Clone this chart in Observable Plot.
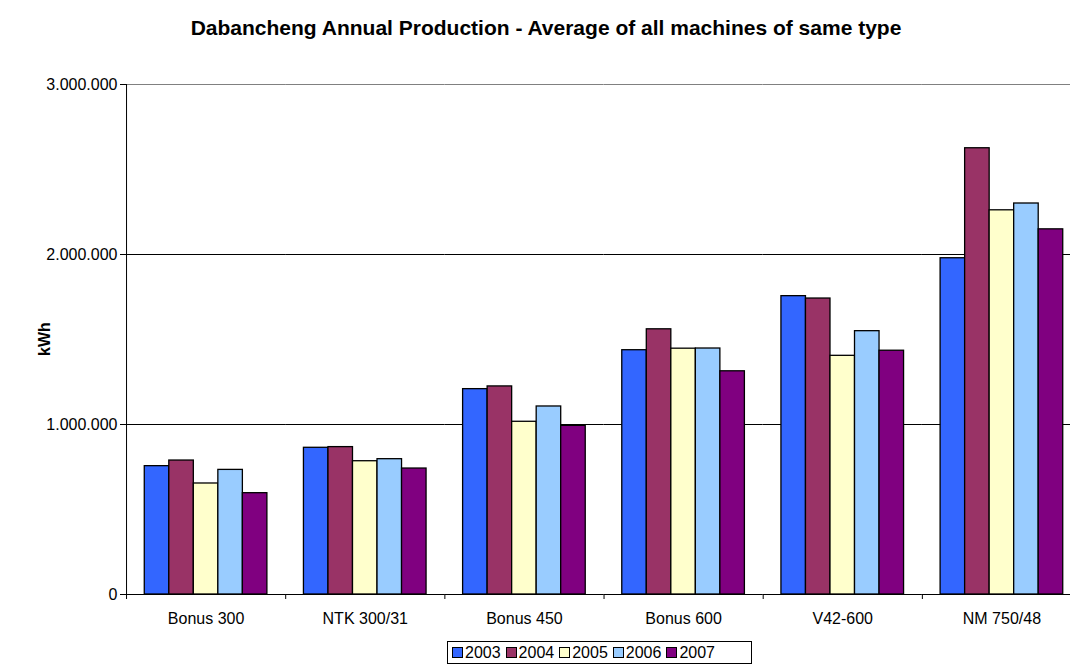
<!DOCTYPE html>
<html>
<head>
<meta charset="utf-8">
<script src="https://cdn.jsdelivr.net/npm/d3@7"></script>
<script src="https://cdn.jsdelivr.net/npm/@observablehq/plot@0.6"></script>
<style>
  html, body { margin: 0; padding: 0; overflow: hidden; background: #fff; }
  #wrap { position: relative; width: 1070px; height: 666px; overflow: hidden;
          font-family: "Liberation Sans", Arial, sans-serif; color: #000; }
  #chart { position: absolute; left: 0; top: 0; width: 1081px; }
  #chart svg { max-width: none !important; width: 1081px !important; height: 666px !important; }
  #title { position: absolute; left: 0; width: 1092px; top: 16px; text-align: center;
           font-weight: bold; font-size: 21px; white-space: nowrap; }
  #ylabel { position: absolute; left: 45px; top: 339px; transform: translate(-50%, -50%) rotate(-90deg);
            font-weight: bold; font-size: 16px; white-space: nowrap; }
  #legend { position: absolute; left: 447px; top: 641px; width: 305px; height: 23px;
            border: 1px solid #000; display: flex; align-items: center; padding-left: 4px;
            box-sizing: border-box; font-size: 16px; }
  .item { display: flex; align-items: center; margin-right: 5px; }
  .sw { width: 9px; height: 9px; border: 1px solid #000; margin-right: 2px; }
</style>
</head>
<body>
<div id="wrap">
  <div id="chart"></div>
  <div id="title"></div>
  <div id="ylabel"></div>
  <div id="legend"></div>
</div>
<script>
const titleText = "Dabancheng Annual Production - Average of all machines of same type";
const yLabel = "kWh";
const machines = ["Bonus 300", "NTK 300/31", "Bonus 450", "Bonus 600", "V42-600", "NM 750/48"];
const years = ["2003", "2004", "2005", "2006", "2007"];
const colors = ["#3366FF", "#993366", "#FFFFCC", "#99CCFF", "#800080"];
const v2003 = [755000, 863000, 1208000, 1437000, 1755000, 1978000];
const v2004 = [788000, 867000, 1224000, 1560000, 1741000, 2625000];
const v2005 = [653000, 784000, 1016000, 1446000, 1404000, 2260000];
const v2006 = [733000, 796000, 1106000, 1447000, 1549000, 2300000];
const v2007 = [596000, 741000, 992000, 1313000, 1434000, 2148000];
const yTicks = [0, 1000000, 2000000, 3000000];

const series = [v2003, v2004, v2005, v2006, v2007];
const data = machines.flatMap((m, i) => years.map((yr, j) => ({machine: m, year: yr, value: series[j][i]})));

const locale = d3.formatLocale({decimal: ",", thousands: ".", grouping: [3], currency: ["", ""]});
const fmt = locale.format(",");

document.getElementById("title").textContent = titleText;
document.getElementById("ylabel").textContent = yLabel;

const legend = document.getElementById("legend");
years.forEach((yr, j) => {
  const it = document.createElement("div");
  it.className = "item";
  const sw = document.createElement("div");
  sw.className = "sw";
  sw.style.background = colors[j];
  const t = document.createElement("span");
  t.textContent = yr;
  it.appendChild(sw); it.appendChild(t);
  legend.appendChild(it);
});

const halfGroupOffset = -30.5;

const chart = Plot.plot({
  width: 1081,
  height: 666,
  marginTop: 84,
  marginBottom: 72,
  marginLeft: 126,
  marginRight: 0,
  facet: {marginTop: 0, marginBottom: 0, marginLeft: 0, marginRight: 0},
  style: {fontFamily: "Liberation Sans, Arial, sans-serif", fontSize: "16px", color: "#000", background: "transparent", overflow: "visible"},
  fx: {domain: machines, padding: 0, round: false, label: null, axis: "bottom", tickSize: 0, tickPadding: 18},
  x: {domain: years, paddingInner: 0, paddingOuter: 0.745, round: false, axis: null},
  y: {domain: [0, 3000000], ticks: yTicks, tickFormat: fmt, tickSize: 6, tickPadding: 3, label: null},
  color: {domain: years, range: colors},
  marks: [
    Plot.ruleY(yTicks.slice(1, -1), {stroke: "#000", strokeWidth: 1}),
    Plot.ruleY(yTicks.slice(-1), {stroke: "#808080", strokeWidth: 1}),
    Plot.barY(data, {fx: "machine", x: "year", y: "value", fill: "year", stroke: "#000", strokeWidth: 1.3, inset: 0}),
    Plot.ruleY([0], {stroke: "#000", strokeWidth: 1}),
    Plot.ruleX(machines, {fx: d => d, x: () => years[0], dx: halfGroupOffset, y1: 0, y2: 0, insetBottom: -5, stroke: "#000"}),
    Plot.ruleX(machines.slice(0, 1), {fx: d => d, x: () => years[0], dx: halfGroupOffset, y1: 0, y2: 3000000, stroke: "#000"})
  ]
});
document.getElementById("chart").appendChild(chart);
</script>
</body>
</html>
